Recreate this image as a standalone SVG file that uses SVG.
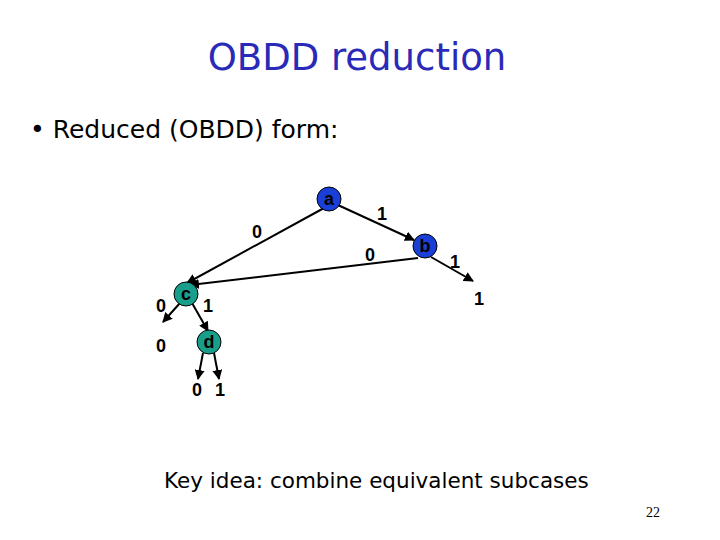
<svg xmlns="http://www.w3.org/2000/svg" width="720" height="540" viewBox="0 0 720 540">
<style>
.t{font-family:"DejaVu Sans",sans-serif}
.l{font-family:"Liberation Sans",Arial,sans-serif;font-weight:bold;font-size:18px;text-anchor:middle}
.e{stroke:#000;stroke-width:2;fill:none;marker-end:url(#ah)}
.n1{fill:#1a3fd6;stroke:#000;stroke-width:1}
.n2{fill:#1a9e8c;stroke:#000;stroke-width:1}
</style>
<defs><marker id="ah" viewBox="0 0 10 10" refX="9" refY="5" markerWidth="5" markerHeight="5" orient="auto"><path d="M0,0L10,5L0,10z" fill="#000"/></marker></defs>
<rect width="720" height="540" fill="#fff"/>
<text class="t" x="357" y="70" font-size="37" fill="#2a2ab8" text-anchor="middle">OBDD reduction</text>
<text class="t" x="30" y="138" font-size="25" fill="#000">• Reduced (OBDD) form:</text>
<g id="edges">
<path class="e" d="M324,208L187,283"/>
<path class="e" d="M327,200L414,240"/>
<path class="e" d="M418,258L190,285"/>
<path class="e" d="M431,257L473,281"/>
<path class="e" d="M180,303L163,322"/>
<path class="e" d="M192,303L208,331"/>
<path class="e" d="M203,353L198,379"/>
<path class="e" d="M214,353L219,379"/>
</g>
<g id="labels">
<text class="l" x="257" y="238">0</text>
<text class="l" x="382" y="220">1</text>
<text class="l" x="370" y="261">0</text>
<text class="l" x="455" y="268">1</text>
<text class="l" x="479" y="305">1</text>
<text class="l" x="161" y="312">0</text>
<text class="l" x="208" y="312">1</text>
<text class="l" x="161" y="352">0</text>
<text class="l" x="197" y="396">0</text>
<text class="l" x="220" y="396">1</text>
</g>
<g id="a"><circle class="n1" cx="329" cy="199" r="12"/><text class="l" x="329" y="205">a</text></g>
<g id="b"><circle class="n1" cx="425" cy="246" r="12"/><text class="l" x="425" y="252">b</text></g>
<g id="c"><circle class="n2" cx="186" cy="294" r="12"/><text class="l" x="186" y="300">c</text></g>
<g id="d"><circle class="n2" cx="209" cy="342" r="12"/><text class="l" x="209" y="348">d</text></g>
<text class="t" x="164" y="488" font-size="21.5" fill="#000">Key idea: combine equivalent subcases</text>
<text x="660" y="517" font-family="Liberation Serif,serif" font-size="14" text-anchor="end">22</text>
</svg>
